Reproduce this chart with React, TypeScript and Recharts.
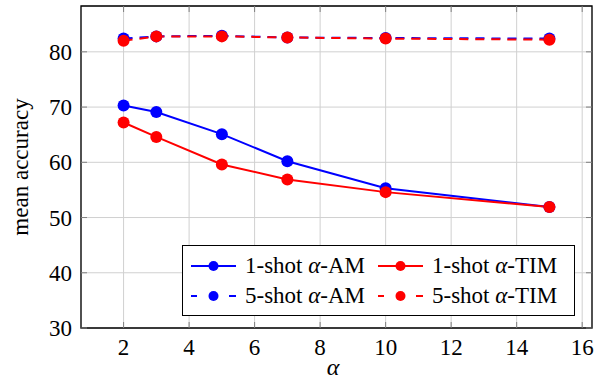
import React from 'react';
import { LineChart, Line, XAxis, YAxis, CartesianGrid, ReferenceArea, Legend } from 'recharts';

const alphas = [2, 3, 5, 7, 10, 15];
const oneShotAM = [70.3, 69.1, 65.1, 60.2, 55.3, 51.9];
const oneShotTIM = [67.2, 64.6, 59.6, 56.9, 54.6, 51.9];
const fiveShotAM = [82.4, 82.8, 82.9, 82.6, 82.5, 82.4];
const fiveShotTIM = [82.0, 82.8, 82.8, 82.6, 82.4, 82.2];
const xTicks = [2, 4, 6, 8, 10, 12, 14, 16];
const yTicks = [30, 40, 50, 60, 70, 80];

const series = [
  { key: 'am1', shot: '1-shot', method: 'AM', color: '#0000ff', dashed: false },
  { key: 'tim1', shot: '1-shot', method: 'TIM', color: '#ff0000', dashed: false },
  { key: 'am5', shot: '5-shot', method: 'AM', color: '#0000ff', dashed: true },
  { key: 'tim5', shot: '5-shot', method: 'TIM', color: '#ff0000', dashed: true },
];

const data = alphas.map((a, i) => ({
  alpha: a,
  am1: oneShotAM[i],
  tim1: oneShotTIM[i],
  am5: fiveShotAM[i],
  tim5: fiveShotTIM[i],
}));

const FONT = 'Liberation Serif, DejaVu Serif, Tinos, Times, serif';
const PLOT_TOP = 6;
const PLOT_RIGHT = 592;
const TICK_COLOR = '#808080';

const XTick = (props: any) => {
  const { x, y, payload } = props;
  return (
    <g>
      <line x1={x} x2={x} y1={y} y2={y - 6} stroke={TICK_COLOR} strokeWidth={1} />
      <line x1={x} x2={x} y1={PLOT_TOP} y2={PLOT_TOP + 6} stroke={TICK_COLOR} strokeWidth={1} />
      <text x={x} y={y + 27} textAnchor="middle" style={{ fontFamily: FONT, fontSize: 23 }} fill="#000">
        {payload.value}
      </text>
    </g>
  );
};

const YTick = (props: any) => {
  const { x, y, payload } = props;
  return (
    <g>
      <line x1={x} x2={x + 6} y1={y} y2={y} stroke={TICK_COLOR} strokeWidth={1} />
      <line x1={PLOT_RIGHT} x2={PLOT_RIGHT - 6} y1={y} y2={y} stroke={TICK_COLOR} strokeWidth={1} />
      <text x={x - 9} y={y + 8} textAnchor="end" style={{ fontFamily: FONT, fontSize: 23 }} fill="#000">
        {payload.value}
      </text>
    </g>
  );
};

const LegendSample = ({ color, dashed }: { color: string; dashed: boolean }) => (
  <svg width={46} height={16} style={{ display: 'block' }}>
    {dashed ? (
      <g>
        <line x1={0} x2={6} y1={8} y2={8} stroke={color} strokeWidth={2} />
        <line x1={38} x2={45} y1={8} y2={8} stroke={color} strokeWidth={2} />
      </g>
    ) : (
      <line x1={0} x2={45} y1={8} y2={8} stroke={color} strokeWidth={2} />
    )}
    <circle cx={22.5} cy={8} r={5} fill={color} />
  </svg>
);

const LegendContent = () => (
  <div
    style={{
      width: 393,
      height: 71,
      border: '1px solid #000',
      background: '#fff',
      position: 'relative',
      boxSizing: 'border-box',
      fontFamily: FONT,
      fontSize: 23,
      color: '#000',
    }}
  >
    {series.map((s, i) => {
      const col = i % 2;
      const row = Math.floor(i / 2);
      return (
        <div
          key={s.key}
          style={{
            position: 'absolute',
            left: col === 0 ? 8 : 195,
            top: row === 0 ? 5 : 35,
            height: 30,
            display: 'flex',
            alignItems: 'center',
            whiteSpace: 'nowrap',
          }}
        >
          <LegendSample color={s.color} dashed={s.dashed} />
          <span style={{ marginLeft: 8, lineHeight: '30px' }}>
            {s.shot} <i>α</i>-{s.method}
          </span>
        </div>
      );
    })}
  </div>
);

export default function App() {
  return (
    <div style={{ position: 'absolute', left: 0, top: 0, width: 599, height: 384, background: '#fff', fontFamily: FONT }}>
      <LineChart width={599} height={384} data={data} margin={{ top: 6, right: 7, left: 0, bottom: 0 }}>
        <CartesianGrid stroke="#d0d0d0" strokeWidth={1} />
        <XAxis
          dataKey="alpha"
          type="number"
          domain={[0.7, 16.3]}
          ticks={xTicks}
          allowDataOverflow
          height={56}
          axisLine={false}
          tickLine={false}
          tickSize={0}
          tickMargin={0}
          tick={<XTick />}
          interval={0}
          label={(props: any) => {
            const vb = props.viewBox;
            return (
              <text x={333} y={vb.y + 47} textAnchor="middle" style={{ fontFamily: FONT, fontSize: 24, fontStyle: 'italic' }} fill="#000">
                α
              </text>
            );
          }}
        />
        <YAxis
          type="number"
          domain={[30, 88.3]}
          ticks={yTicks}
          allowDataOverflow
          width={81}
          axisLine={false}
          tickLine={false}
          tickSize={0}
          tickMargin={0}
          tick={<YTick />}
          interval={0}
          label={(props: any) => {
            const vb = props.viewBox;
            const cy = vb.y + vb.height / 2;
            return (
              <text
                x={20}
                y={cy}
                transform={`rotate(-90 20 ${cy})`}
                textAnchor="middle"
                dominantBaseline="central"
                style={{ fontFamily: FONT, fontSize: 23 }}
                fill="#000"
              >
                mean accuracy
              </text>
            );
          }}
        />
        {series.map((s) => (
          <Line
            key={s.key}
            type="linear"
            dataKey={s.key}
            stroke={s.color}
            strokeWidth={2}
            strokeDasharray={s.dashed ? '9 7' : undefined}
            dot={{ r: 6, fill: s.color, stroke: 'none', strokeDasharray: '' }}
            activeDot={false}
            isAnimationActive={false}
          />
        ))}
        <ReferenceArea x1={0.7} x2={16.3} y1={30} y2={88.3} fill="none" fillOpacity={0} stroke="#000" strokeWidth={1.3} ifOverflow="visible" />
        <Legend
          layout="horizontal"
          verticalAlign="middle"
          align="center"
          content={<LegendContent />}
          wrapperStyle={{ position: 'absolute', left: 182, top: 245, width: 394, height: 72 }}
        />
      </LineChart>
    </div>
  );
}
